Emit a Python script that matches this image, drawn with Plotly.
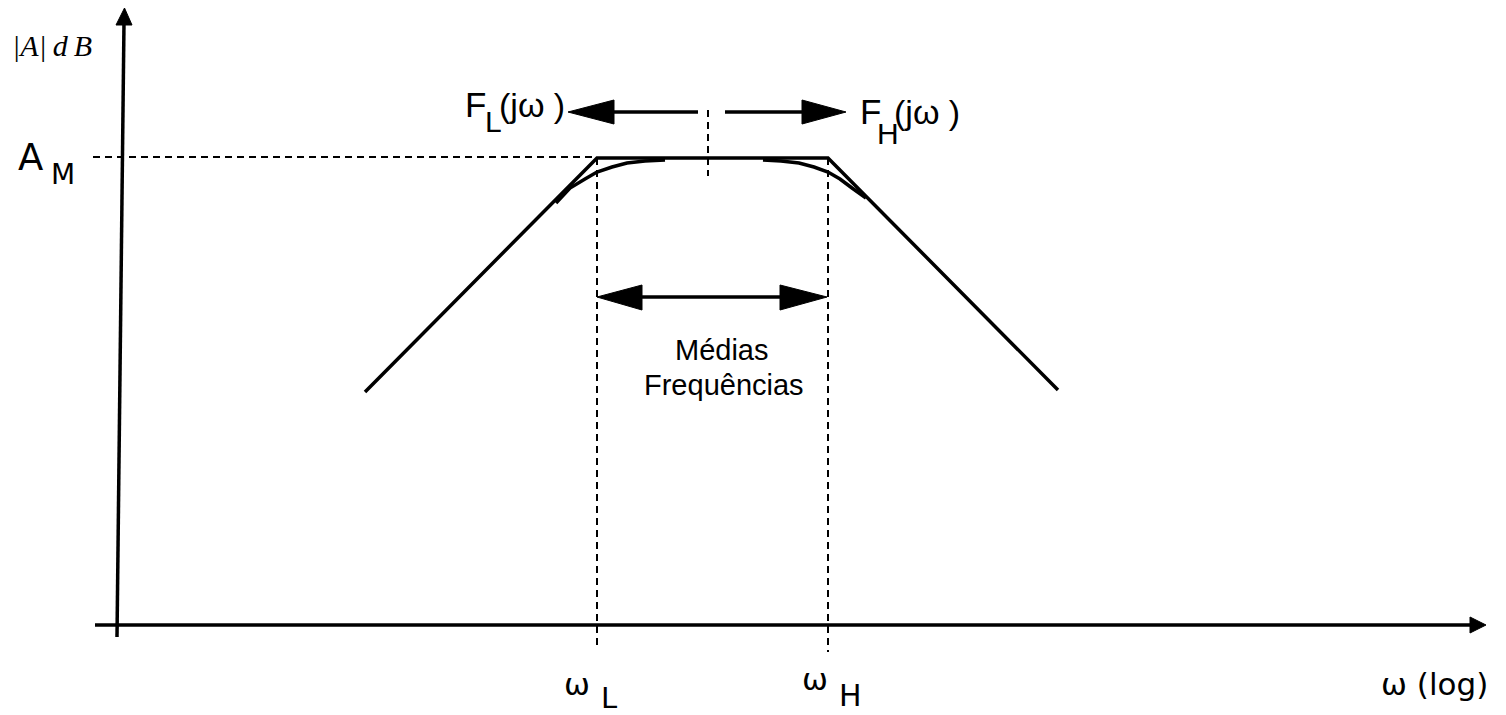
import plotly.graph_objects as go

# ---------------- data (diagram coordinates, pixel-like units) ----------------
# axes
y_axis_x = [117, 124]
y_axis_y = [637, 22]
y_head_x = [116, 124.5, 132, 116]
y_head_y = [25, 8, 25, 25]
x_axis_x = [95, 1472]
x_axis_y = [625, 625]
x_head_x = [1470, 1486, 1470, 1470]
x_head_y = [617, 625, 633, 617]

# asymptotic (Bode) magnitude
asym_x = [365, 597, 828, 1058]
asym_y = [392, 158, 158, 390]

# real response near the corners
curve_left_x = [556, 570, 585, 597, 612, 627, 645, 665]
curve_left_y = [203, 188, 179, 172, 167, 163, 161, 160]
curve_right_x = [763, 781, 799, 814, 828, 840, 852, 866]
curve_right_y = [160, 161, 163, 167, 172, 179, 188, 198]

# dashed guides
am_dash_x = [93, 597]
am_dash_y = [157, 157]
wl_dash_x = [597, 597]
wl_dash_y = [158, 650]
wh_dash_x = [828, 828]
wh_dash_y = [158, 652]
mid_dash_x = [708, 708]
mid_dash_y = [110, 176]

# top arrows
fl_shaft_x = [698, 610]
fl_shaft_y = [112, 112]
fl_head_x = [614, 568, 614, 614]
fl_head_y = [100, 112, 124, 100]
fh_shaft_x = [725, 805]
fh_shaft_y = [112, 112]
fh_head_x = [802, 846, 802, 802]
fh_head_y = [100, 112, 124, 100]

# mid-band double arrow
mb_shaft_x = [638, 784]
mb_shaft_y = [297, 297]
mb_lhead_x = [642, 597, 642, 642]
mb_lhead_y = [285, 297, 310, 285]
mb_rhead_x = [780, 827, 780, 780]
mb_rhead_y = [285, 297, 310, 285]

# texts: (text, x, y, size, family, italic)
labels = [
    ("|A|\u2009d\u2009B", 52, 45, 30, "Liberation Serif", True),
    ("A", 30, 157, 37, "DejaVu Sans", False),
    ("M", 63, 174, 28, "DejaVu Sans", False),
    ("F", 475, 104, 35, "Liberation Sans", False),
    ("L", 493, 121, 30, "Liberation Sans", False),
    ("(jω )", 532, 105, 34, "Liberation Sans", False),
    ("F", 870, 111, 35, "Liberation Sans", False),
    ("H", 888, 133, 30, "Liberation Sans", False),
    ("(jω )", 927, 112, 34, "Liberation Sans", False),
    ("Médias", 722, 350, 29, "Liberation Sans", False),
    ("Frequências", 724, 385, 29, "Liberation Sans", False),
    ("ω", 577, 684, 31, "DejaVu Sans", False),
    ("L", 609, 698, 29, "DejaVu Sans", False),
    ("ω", 815, 679, 31, "DejaVu Sans", False),
    ("H", 850, 695, 30, "DejaVu Sans", False),
    ("ω (log)", 1434, 684, 31, "DejaVu Sans", False),
]

# the page body adds an 8 px margin; shift the visible window to compensate
PAGE_OFFSET = 8

fig = go.Figure()


def line(x, y, width=3, dash=None):
    fig.add_trace(go.Scatter(x=x, y=y, mode="lines",
                             line=dict(color="black", width=width, dash=dash),
                             hoverinfo="skip", showlegend=False))


def tri(x, y):
    fig.add_trace(go.Scatter(x=x, y=y, mode="lines", fill="toself",
                             fillcolor="black", line=dict(color="black", width=1),
                             hoverinfo="skip", showlegend=False))


# dashed guides first
for dx, dy in [(am_dash_x, am_dash_y), (wl_dash_x, wl_dash_y),
               (wh_dash_x, wh_dash_y), (mid_dash_x, mid_dash_y)]:
    line(dx, dy, width=2, dash="7px,5px")

# axes
line(y_axis_x, y_axis_y, width=3.5)
tri(y_head_x, y_head_y)
line(x_axis_x, x_axis_y, width=3.5)
tri(x_head_x, x_head_y)

# response
line(asym_x, asym_y, width=3.5)
line(curve_left_x, curve_left_y, width=3.5)
line(curve_right_x, curve_right_y, width=3.5)

# arrows
line(fl_shaft_x, fl_shaft_y, width=3.5)
tri(fl_head_x, fl_head_y)
line(fh_shaft_x, fh_shaft_y, width=3.5)
tri(fh_head_x, fh_head_y)
line(mb_shaft_x, mb_shaft_y, width=3.5)
tri(mb_lhead_x, mb_lhead_y)
tri(mb_rhead_x, mb_rhead_y)

for text, x, y, size, fam, ital in labels:
    fig.add_annotation(x=x, y=y, text=text, showarrow=False,
                       xanchor="center", yanchor="middle",
                       font=dict(family=fam, size=size, color="black",
                                 style="italic" if ital else "normal"))

fig.update_layout(
    width=1506, height=715,
    margin=dict(l=0, r=0, t=0, b=0),
    paper_bgcolor="white", plot_bgcolor="white",
    xaxis=dict(range=[PAGE_OFFSET, 1506 + PAGE_OFFSET], visible=False, fixedrange=True),
    yaxis=dict(range=[715 + PAGE_OFFSET, PAGE_OFFSET], visible=False, fixedrange=True),
)

fig.write_html("out.html")
